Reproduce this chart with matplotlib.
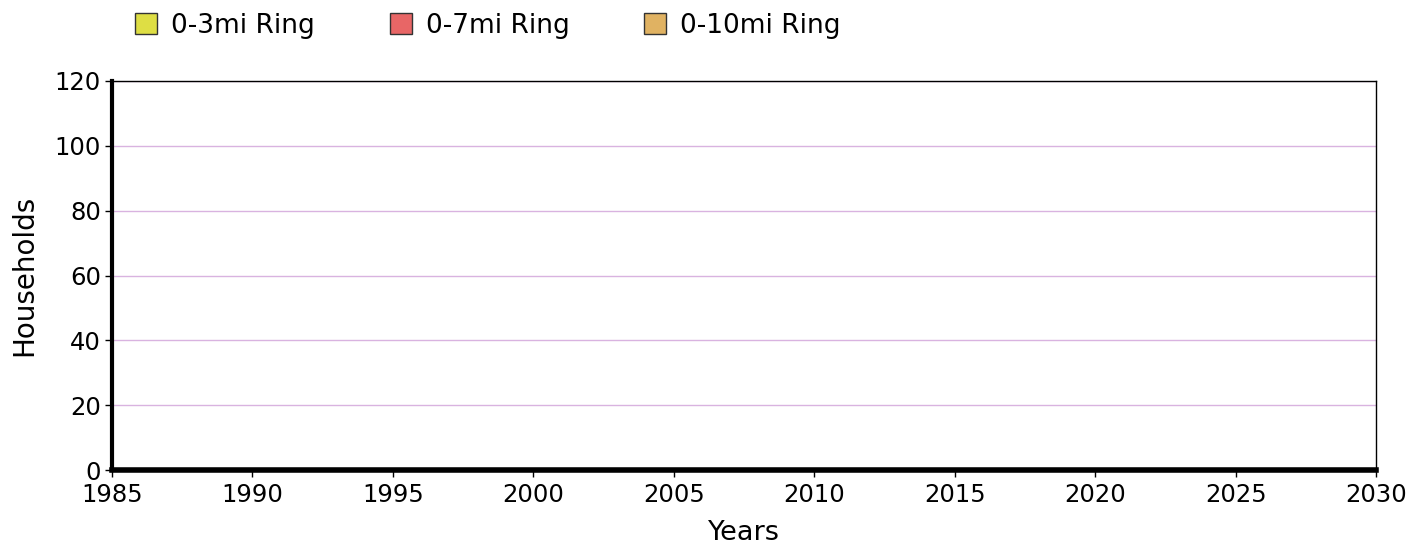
import matplotlib.pyplot as plt
from matplotlib.patches import Patch

plt.rcParams['font.family'] = ['DejaVu Sans']

# series (no data points in the reference)
rings = ['0-3mi Ring', '0-7mi Ring', '0-10mi Ring']
colors = ['#dede44', '#e86666', '#e0b262']
years = []
households = {r: [] for r in rings}

x_ticks = [1985, 1990, 1995, 2000, 2005, 2010, 2015, 2020, 2025, 2030]
y_ticks = [0, 20, 40, 60, 80, 100, 120]

fig = plt.figure(figsize=(14.16, 5.48), dpi=100)
ax = fig.add_axes([0.0791, 0.1423, 0.8927, 0.7099])

for r, c in zip(rings, colors):
    ax.plot(years, households[r], color=c)

ax.set_xlim(1985, 2030)
ax.set_ylim(0, 120)
ax.set_xticks(x_ticks)
ax.set_yticks(y_ticks)
ax.yaxis.grid(True, color='#d9b3e0', linewidth=1)
ax.set_axisbelow(True)

ax.tick_params(axis='both', direction='out', length=5, width=1, labelsize=17.5, colors='black')
ax.tick_params(axis='x', pad=4)
ax.tick_params(axis='y', pad=3)
ax.spines['left'].set_linewidth(3)
ax.spines['bottom'].set_linewidth(4)
ax.spines['top'].set_linewidth(1)
ax.spines['right'].set_linewidth(1)

ax.set_xlabel('Years', fontsize=19.5, labelpad=10)
ax.set_ylabel('Households', fontsize=20, labelpad=12)

handles = [Patch(facecolor=c, edgecolor='#333333', linewidth=1) for c in colors]
fig.legend(handles, rings, loc='upper left', bbox_to_anchor=(0.0784, 1.02), ncol=3,
           frameon=False, fontsize=19, handlelength=0.83, handleheight=0.83,
           handletextpad=0.53, columnspacing=2.85)

fig.savefig('out.png', dpi=100)
